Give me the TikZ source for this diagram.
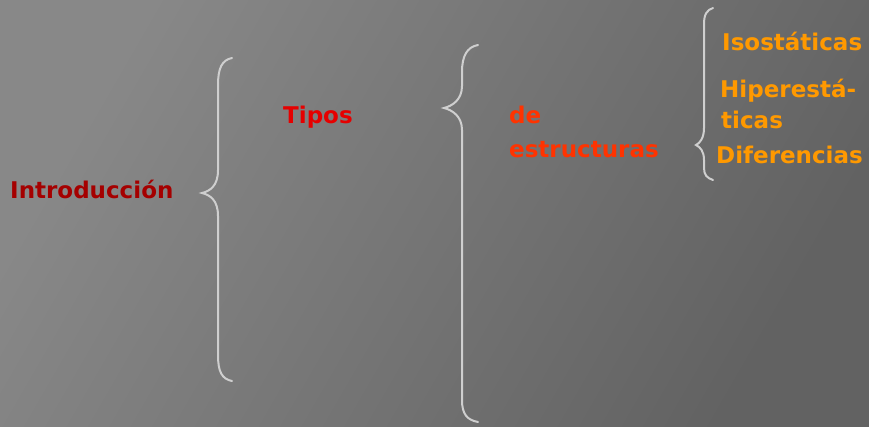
\documentclass[tikz,border=0pt]{standalone}
\usepackage{fontspec}
\setmainfont{DejaVu Sans}[BoldFont={DejaVu Sans Bold}]
\definecolor{bgA}{HTML}{888888}
\definecolor{bgB}{HTML}{626262}
\definecolor{bracecol}{HTML}{CFCFCF}
\definecolor{darkred}{HTML}{A50000}
\definecolor{tipored}{HTML}{E60000}
\definecolor{estred}{HTML}{FF3300}
\definecolor{orng}{HTML}{FF9900}
\tikzset{
  brace/.style={draw=bracecol, line width=2pt, line cap=round},
  lbl/.style={anchor=base west, inner sep=0pt, font=\bfseries\fontsize{23}{28}\selectfont},
}
\begin{document}
\begin{tikzpicture}[x=1pt,y=-1pt]
\shade[shading=axis, top color=bgA, bottom color=bgB, shading angle=60] (0,0) rectangle (869,426);
\useasboundingbox (0,0) rectangle (869,426);
% braces
\draw[brace] (232,58) .. controls (222,60) and (218,68) .. (218,85)
  -- (218,170) .. controls (218,186) and (210,191) .. (202,193)
  .. controls (210,195) and (218,200) .. (218,216)
  -- (218,355) .. controls (218,372) and (222,379) .. (232,381);
\draw[brace] (478,45) .. controls (467,47) and (462,56) .. (462,72)
  -- (462,86) .. controls (462,100) and (452,106) .. (444,108)
  .. controls (452,110) and (462,116) .. (462,130)
  -- (462,400) .. controls (462,414) and (467,420) .. (478,422);
\draw[brace] (713,8) .. controls (707,10) and (704,14) .. (704,24)
  -- (704,128) .. controls (704,138) and (700,143) .. (696,145)
  .. controls (700,147) and (704,151) .. (704,160)
  -- (704,168) .. controls (704,175) and (707,178) .. (713,180);
% texts
\node[lbl, text=darkred] (intro) at (10,198) {Introducción};
\node[lbl, text=tipored] (tipos) at (283,123) {Tipos};
\node[lbl, text=estred] (de) at (509,123) {de};
\node[lbl, text=estred] (estr) at (509,157) {estructuras};
\node[lbl, text=orng] (iso) at (722,50) {Isostáticas};
\node[lbl, text=orng] (hip) at (720,97) {Hiperestá-};
\node[lbl, text=orng] (ticas) at (721,128) {ticas};
\node[lbl, text=orng] (dif) at (716,163) {Diferencias};
\end{tikzpicture}
\end{document}
